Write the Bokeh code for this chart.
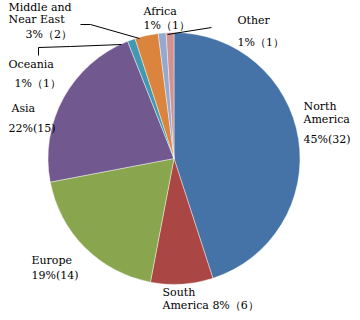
import math
from bokeh.plotting import figure
from bokeh.models import ColumnDataSource, Range1d
from bokeh.core.properties import value
from bokeh.embed import file_html
from bokeh.resources import INLINE

# ---- data ----
regions = ["North America", "South America", "Europe", "Asia", "Oceania",
           "Middle and Near East", "Africa", "Other"]
shares = [45, 8, 19, 22, 1, 3, 1, 1]
counts = [32, 6, 14, 15, 1, 2, 1, 1]
colors = ["#4572A7", "#AA4643", "#89A54E", "#71588F", "#4198AF",
          "#DB843D", "#93A9CF", "#D19392"]

W, H = 352, 312

def fy(y):
    return H - y

p = figure(width=W, height=H, output_backend="svg", toolbar_location=None,
           x_range=Range1d(0, W), y_range=Range1d(0, H),
           min_border=0)
p.axis.visible = False
p.grid.visible = False
p.outline_line_color = None
p.background_fill_color = "white"

total = sum(shares)
cum = 0
starts, ends = [], []
for s in shares:
    a0 = math.pi / 2 - 2 * math.pi * cum / total
    cum += s
    a1 = math.pi / 2 - 2 * math.pi * cum / total
    starts.append(a1)
    ends.append(a0)

cx, cy, r = 173.5, fy(158), 126
src = ColumnDataSource(dict(start=starts, end=ends, color=colors,
                            x=[cx] * len(shares), y=[cy] * len(shares)))
p.wedge(x="x", y="y", radius=r, start_angle="start", end_angle="end",
        fill_color="color", line_color="white", line_width=0.6, line_alpha=0.7,
        source=src)

# leader lines (image pixel coordinates)
leaders = [
    ([80, 90, 139], [24, 24, 38]),
    ([38, 38, 70, 121], [55, 47, 46, 44]),
    ([211, 167], [27, 34]),
]
for xs, ys in leaders:
    p.line(xs, [fy(v) for v in ys], line_color="black", line_width=1)

# labels
lx = [8, 8, 25, 143, 143, 237, 237, 8, 14, 11, 8, 31, 31, 162, 162, 303, 303, 303]
ly = [7, 19, 34, 11, 25, 20, 42, 64, 83, 108, 128, 260, 275, 292, 305, 106, 119, 139]
lt = ["Middle and", "Near East", "3%（2）",
      "Africa", "1%（1）",
      "Other", "1%（1）",
      "Oceania", "1%（1）",
      "Asia", "22%(15)",
      "Europe", "19%(14)",
      "South", "America 8%（6）",
      "North", "America", "45%(32)"]
p.text(x=lx, y=[fy(v) for v in ly], text=lt, text_font=value("DejaVu Serif"),
       text_font_size="11px", text_color="black", text_baseline="middle",
       text_align="left")

open("out.html", "w").write(file_html(p, INLINE))
